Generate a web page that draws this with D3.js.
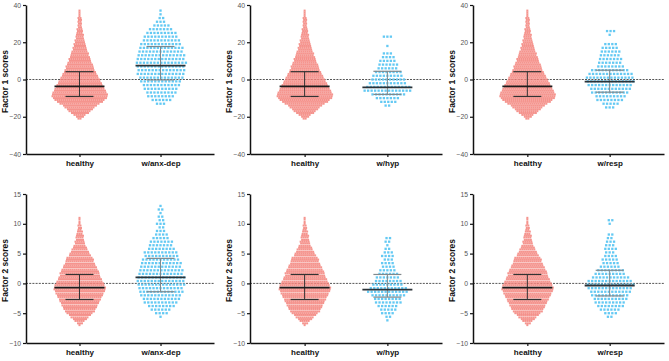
<!DOCTYPE html>
<html><head><meta charset="utf-8">
<script src="https://cdn.jsdelivr.net/npm/d3@7"></script>
<style>body{margin:0;background:#fff}svg{display:block}</style>
</head><body>
<svg id="c" width="669" height="361"></svg>
<script>
// ---- data: swarm rows [score, number of dots in that row] ----
const healthyF1Rows = [[-21,2],[-20,4],[-19,6],[-18,9],[-17,11],[-16,13],[-15,15],[-14,17],[-13,20],[-12,23],[-11,25],[-10,27],[-9,28],[-8,28],[-7,27],[-6,26],[-5,25],[-4,24],[-3,23],[-2,22],[-1,21],[0,20],[1,19],[2,18],[3,17],[4,16],[5,15],[6,14],[7,14],[8,13],[9,12],[10,11],[11,11],[12,10],[13,9],[14,9],[15,8],[16,7],[17,7],[18,6],[19,6],[20,5],[21,5],[22,4],[23,4],[24,4],[25,3],[26,3],[27,3],[28,2],[29,2],[30,2],[31,2],[32,2],[33,2],[34,1],[35,1],[36,1],[37,1]];
const anxDepF1Rows = [[-13,3],[-11,6],[-9,8],[-7,9],[-5,10],[-3,11],[-1,12],[1,13],[3,14],[5,14],[7,14],[9,15],[11,14],[13,14],[15,13],[17,13],[19,12],[21,11],[23,10],[25,9],[27,7],[29,5],[31,3],[33,2],[35,1],[37,1]];
const hypF1Rows = [[-14,2],[-12,5],[-10,7],[-8,10],[-6,14],[-4,13],[-2,11],[0,10],[2,9],[4,8],[6,6],[8,6],[10,5],[12,4],[14,3],[18,1],[23,3]];
const respF1Rows = [[-15,3],[-13,5],[-11,8],[-9,9],[-7,11],[-5,12],[-3,13],[-1,14],[1,14],[3,13],[5,11],[7,8],[9,7],[11,7],[13,6],[15,6],[17,5],[19,4],[24,1],[26,3]];

const healthyF2Rows = [[-7.0,1],[-6.7,3],[-6.3,5],[-6.0,7],[-5.7,9],[-5.3,11],[-5.0,13],[-4.7,15],[-4.3,16],[-4.0,17],[-3.7,18],[-3.3,19],[-3.0,20],[-2.7,21],[-2.3,22],[-2.0,23],[-1.7,24],[-1.3,25],[-1.0,26],[-0.7,26],[-0.3,25],[0.0,24],[0.3,23],[0.7,22],[1.0,21],[1.3,20],[1.7,20],[2.0,19],[2.3,18],[2.7,17],[3.0,16],[3.3,15],[3.7,14],[4.0,14],[4.3,13],[4.7,11],[5.0,10],[5.3,9],[5.7,8],[6.0,7],[6.3,6],[6.7,5],[7.0,5],[7.3,4],[7.7,4],[8.0,4],[8.3,3],[8.7,3],[9.0,2],[9.3,2],[9.7,2],[10.0,1],[10.3,1],[10.7,1],[11.0,1]];
const anxDepF2Rows = [[-5.6,1],[-5.0,4],[-4.4,6],[-3.8,8],[-3.2,10],[-2.6,11],[-2.0,12],[-1.4,13],[-0.8,13],[-0.2,14],[0.4,14],[1.0,14],[1.6,13],[2.2,13],[2.8,12],[3.4,12],[4.0,11],[4.6,10],[5.2,10],[5.8,8],[6.4,7],[7.0,7],[7.6,5],[8.2,4],[8.8,3],[9.4,2],[10.0,3],[10.6,2],[11.2,2],[11.8,1],[12.4,2],[13.0,1]];
const hypF2Rows = [[-6.2,1],[-5.6,2],[-5.0,4],[-4.4,5],[-3.8,6],[-3.2,8],[-2.6,8],[-2.0,10],[-1.4,12],[-0.8,11],[-0.2,9],[0.4,8],[1.0,7],[1.6,6],[2.2,5],[2.8,4],[3.4,4],[4.0,3],[4.6,4],[5.2,3],[5.8,2],[6.4,1],[7.0,2],[7.6,2]];
const respF2Rows = [[-5.6,2],[-5.0,4],[-4.4,6],[-3.8,8],[-3.2,9],[-2.6,10],[-2.0,11],[-1.4,12],[-0.8,13],[-0.2,14],[0.4,13],[1.0,11],[1.6,9],[2.2,8],[2.8,6],[3.4,5],[4.0,5],[4.6,4],[5.2,3],[5.8,4],[6.4,3],[7.0,3],[7.6,2],[8.2,2],[10.0,1],[10.6,2]];

// error bars: [centre line, lower, upper]
const healthyF1Bar = [-3.7, -9.1, 4.2];
const anxDepF1Bar = [7.5, -0.2, 17.7];
const hypF1Bar = [-4.2, -8.0, 4.4];
const respF1Bar = [-1.1, -6.8, 5.0];
const healthyF2Bar = [-0.7, -2.7, 1.5];
const anxDepF2Bar = [1.0, -1.4, 4.2];
const hypF2Bar = [-1.05, -2.3, 1.5];
const respF2Bar = [-0.35, -2.1, 2.2];

const groupNames = ["w/anx-dep", "w/hyp", "w/resp"];
const factor1Ticks = [-40, -20, 0, 20, 40];
const factor2Ticks = [-10, -5, 0, 5, 10, 15];
const yTitles = ["Factor 1 scores", "Factor 2 scores"];

// ---- layout ----
const svg = d3.select("#c");
const colOx = [26, 250, 473];
const colW = [188, 192, 191];
const rowTop = [5, 194];
const plotH = 149;
const FONT = "'Liberation Sans', Arial, sans-serif";
const HEALTHY = "#F4857E", BLUE = "#5CC6F2";

const f1Rows = [anxDepF1Rows, hypF1Rows, respF1Rows];
const f2Rows = [anxDepF2Rows, hypF2Rows, respF2Rows];
const f1Bars = [anxDepF1Bar, hypF1Bar, respF1Bar];
const f2Bars = [anxDepF2Bar, hypF2Bar, respF2Bar];

function drawPanel(r, c) {
  const ox = colOx[c], oy = rowTop[r], W = colW[c];
  const g = svg.append("g").attr("transform", `translate(${ox},${oy})`);
  const domain = r === 0 ? [-40, 40] : [-10, 15];
  const ticks = r === 0 ? factor1Ticks : factor2Ticks;
  const y = d3.scaleLinear().domain(domain).range([plotH, 0]);
  const x = d3.scalePoint().domain(["healthy", groupNames[c]]).range([0, W]).padding(0.66);

  // zero reference line
  g.append("line").attr("x1", 0).attr("x2", W).attr("y1", y(0)).attr("y2", y(0))
    .attr("stroke", "#555").attr("stroke-width", 1).attr("stroke-dasharray", "2,1.2");

  const groups = [
    {name: "healthy", rows: r === 0 ? healthyF1Rows : healthyF2Rows, bar: r === 0 ? healthyF1Bar : healthyF2Bar, color: HEALTHY, sp: 2.0, size: 2.0, dark: "#1b1b1b", sd: "#333"},
    {name: groupNames[c], rows: (r === 0 ? f1Rows : f2Rows)[c], bar: (r === 0 ? f1Bars : f2Bars)[c], color: BLUE, sp: 3.5, size: 2.3, dark: "#2b3338", sd: "#80898d"}
  ];

  groups.forEach((gr, gi) => {
    const cx = x(gr.name);
    const pts = [];
    gr.rows.forEach(([v, n], ri) => {
      const off = (ri % 2) ? (gi === 0 ? 0.5 : 0.9) : 0;
      for (let i = 0; i < n; i++) pts.push({x: cx + (i - (n - 1) / 2) * gr.sp + (n > 1 ? off : 0), y: y(v)});
    });
    g.append("g").selectAll("rect").data(pts).join("rect")
      .attr("x", d => d.x - gr.size / 2).attr("y", d => d.y - gr.size / 2)
      .attr("width", gr.size).attr("height", gr.size)
      .attr("fill", gr.color).attr("opacity", gi === 0 ? 0.88 : 0.95);

    const [m, lo, hi] = gr.bar;
    const eb = g.append("g");
    eb.append("line").attr("x1", cx).attr("x2", cx).attr("y1", y(lo)).attr("y2", y(hi))
      .attr("stroke", gr.sd).attr("stroke-width", 1);
    [lo, hi].forEach(v => eb.append("line").attr("x1", cx - 14).attr("x2", cx + 14)
      .attr("y1", y(v)).attr("y2", y(v)).attr("stroke", gr.sd).attr("stroke-width", 1.2));
    eb.append("line").attr("x1", cx - 25).attr("x2", cx + 25).attr("y1", y(m)).attr("y2", y(m))
      .attr("stroke", gr.dark).attr("stroke-width", 1.8);
  });

  // axes
  const ya = g.append("g").call(d3.axisLeft(y).tickValues(ticks).tickSize(3).tickSizeOuter(0).tickPadding(2));
  ya.select(".domain").attr("stroke", "#111").attr("stroke-width", 1.5);
  ya.selectAll(".tick line").attr("stroke", "#111").attr("stroke-width", 1.2);
  ya.selectAll(".tick text").attr("fill", "#555").style("font-family", FONT).style("font-size", "6.8px");

  const xa = g.append("g").attr("transform", `translate(0,${plotH})`)
    .call(d3.axisBottom(x).tickSize(3).tickSizeOuter(0).tickPadding(3));
  xa.select(".domain").attr("stroke", "#111").attr("stroke-width", 1.5);
  xa.selectAll(".tick line").attr("stroke", "#111").attr("stroke-width", 1.2);
  xa.selectAll(".tick text").attr("fill", "#111").style("font-family", FONT).style("font-size", "8px").style("font-weight", "bold");

  g.append("text").attr("transform", `translate(-18,${plotH / 2 + 2}) rotate(-90)`)
    .attr("text-anchor", "middle").style("font-family", FONT).style("font-size", "8.5px")
    .style("font-weight", "bold").attr("fill", "#111").text(yTitles[r]);
}

for (let r = 0; r < 2; r++) for (let c = 0; c < 3; c++) drawPanel(r, c);
</script>
</body></html>
